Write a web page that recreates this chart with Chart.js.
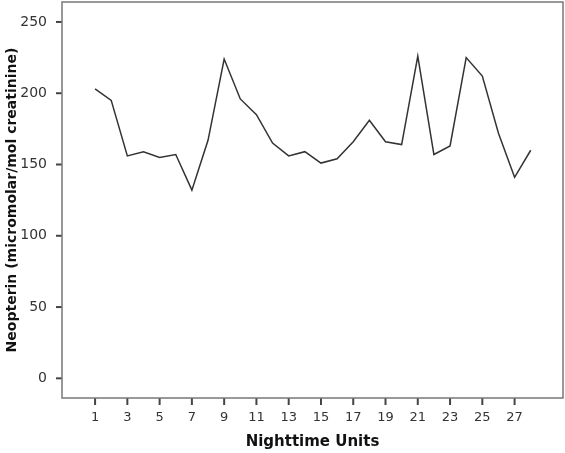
<!DOCTYPE html>
<html>
<head>
<meta charset="utf-8">
<script src="https://cdn.jsdelivr.net/npm/chart.js@4"></script>
<style>
html,body{margin:0;padding:0;background:#fff;}
#wrap{width:565px;height:453px;}
</style>
</head>
<body>
<div id="wrap"><canvas id="c" width="565" height="453"></canvas></div>
<script>
const nights=[1,2,3,4,5,6,7,8,9,10,11,12,13,14,15,16,17,18,19,20,21,22,23,24,25,26,27,28];
const neopterin=[203,195,156,159,155,157,132,167,224,196,185,165,156,159,151,154,166,181,166,164,226,157,163,225,212,172,141,160];
const xTicks=[1,3,5,7,9,11,13,15,17,19,21,23,25,27];
const yTicks=[0,50,100,150,200,250];

// box round the plot plus short outside tick marks
const frame={id:"frame",afterDraw(ch){
  const a=ch.chartArea,g=ch.ctx,sx=ch.scales.x,sy=ch.scales.y;
  g.save();
  g.strokeStyle="#444";g.lineWidth=2;
  xTicks.forEach(v=>{const p=sx.getPixelForValue(v);g.beginPath();g.moveTo(p,a.bottom);g.lineTo(p,a.bottom+7);g.stroke();});
  yTicks.forEach(v=>{const p=sy.getPixelForValue(v);g.beginPath();g.moveTo(a.left,p);g.lineTo(a.left-6,p);g.stroke();});
  g.strokeStyle="#777";g.lineWidth=1.5;
  g.strokeRect(a.left,a.top,a.right-a.left,a.bottom-a.top);
  g.restore();}};

const tickFont={family:"'DejaVu Sans', sans-serif",size:13};
new Chart(document.getElementById("c"),{
  type:"line",
  data:{datasets:[{data:nights.map((n,i)=>({x:n,y:neopterin[i]})),borderColor:"#333",borderWidth:1.5,pointRadius:0,fill:false,tension:0}]},
  options:{
    animation:false,responsive:false,
    layout:{padding:{top:2,right:2,left:0,bottom:0}},
    plugins:{legend:{display:false},tooltip:{enabled:false}},
    scales:{
      x:{type:"linear",min:-1.05,max:30,
        afterBuildTicks:s=>{s.ticks=xTicks.map(v=>({value:v}));},
        afterFit:s=>{s.height=55;s.paddingLeft=0;s.paddingRight=0;},
        grid:{display:false},
        border:{display:false},
        ticks:{color:"#333",font:tickFont,padding:4,maxRotation:0,autoSkip:false},
        title:{display:true,text:"Nighttime Units",color:"#111",font:{family:"'DejaVu Sans', sans-serif",size:15,weight:"bold"},padding:{top:4,bottom:2}}},
      y:{min:-13.8,max:264,
        afterBuildTicks:s=>{s.ticks=yTicks.map(v=>({value:v}));},
        afterFit:s=>{s.width=62;s.paddingTop=0;s.paddingBottom=0;},
        grid:{display:false},
        border:{display:false},
        ticks:{color:"#333",font:{family:"'DejaVu Sans', sans-serif",size:14},padding:7},
        title:{display:true,text:"Neopterin (micromolar/mol creatinine)",color:"#111",font:{family:"'DejaVu Sans', sans-serif",size:14,weight:"bold"},padding:{bottom:2}}}
    }
  },
  plugins:[frame]
});
</script>
</body>
</html>
